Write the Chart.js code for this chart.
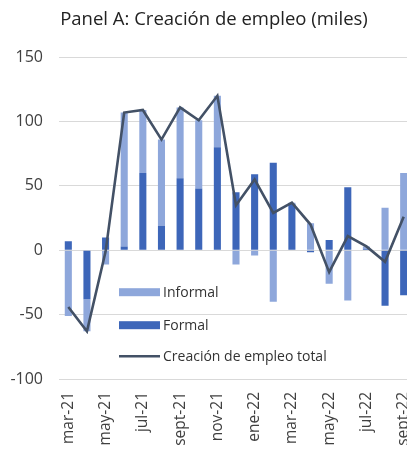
<!DOCTYPE html>
<html>
<head>
<meta charset="utf-8">
<script src="https://cdn.jsdelivr.net/npm/chart.js@4.4.1/dist/chart.umd.min.js"></script>
<style>
  html, body { margin: 0; padding: 0; background: #fff; overflow: hidden; }
  #wrap { width: 428px; height: 452px; }
</style>
</head>
<body>
<div id="wrap"><canvas id="empleo" width="428" height="452"></canvas></div>
<script>
// months, mar-21 .. sept-22
const months = ['mar-21', 'abr-21', 'may-21', 'jun-21', 'jul-21', 'ago-21', 'sept-21', 'oct-21', 'nov-21',
  'dic-21', 'ene-22', 'feb-22', 'mar-22', 'abr-22', 'may-22', 'jun-22', 'jul-22', 'ago-22', 'sept-22'];

// miles de empleos
const formal = [7, -38, 10, 3, 60, 19, 56, 48, 80, 45, 59, 68, 36, -1.5, 8, 49, 1, -43, -35];
const informal = [-51, -25, -11, 104, 49, 67, 55, 53, 40, -11, -4, -40, 1, 21, -26, -39, 2, 33, 60];
const total = [-44, -63, -1, 107, 109, 86, 111, 101, 120, 35, 55, 29, 37, 20, -17, 11, 3, -9, 26];

const yTicks = [-100, -50, 0, 50, 100, 150];

const colFormal = '#3d66b9';
const colInformal = '#8ea7db';
const colTotal = '#435166';
const fontFam = '"Open Sans", sans-serif';

// legend drawn inside the plot, like the original
const insideLegend = {
  id: 'insideLegend',
  afterDatasetsDraw(chart) {
    const ctx = chart.ctx;
    const area = chart.chartArea;
    const x0 = area.left + 60;
    const ds = chart.data.datasets;
    const rows = [
      { ds: ds[2], dy: 235 },
      { ds: ds[1], dy: 268 },
      { ds: ds[0], dy: 299 }
    ];
    ctx.save();
    ctx.font = '14px ' + fontFam;
    ctx.textBaseline = 'middle';
    rows.forEach(r => {
      const y = area.top + r.dy;
      if (r.ds.type === 'line') {
        ctx.strokeStyle = r.ds.borderColor;
        ctx.lineWidth = 2.6;
        ctx.beginPath();
        ctx.moveTo(x0, y);
        ctx.lineTo(x0 + 41, y);
        ctx.stroke();
      } else {
        ctx.fillStyle = r.ds.backgroundColor;
        ctx.fillRect(x0, y - 4, 41, 8);
      }
      ctx.fillStyle = '#333';
      ctx.fillText(r.ds.label, x0 + 44, y + 1);
    });
    ctx.restore();
  }
};

const ctx = document.getElementById('empleo').getContext('2d');
new Chart(ctx, {
  data: {
    labels: months,
    datasets: [
      {
        type: 'line',
        label: 'Creación de empleo total',
        data: total,
        borderColor: colTotal,
        borderWidth: 2.6,
        pointRadius: 0,
        tension: 0,
        order: 0
      },
      {
        type: 'bar',
        label: 'Formal',
        data: formal,
        backgroundColor: colFormal,
        stack: 's',
        barPercentage: 0.38,
        categoryPercentage: 1,
        order: 1
      },
      {
        type: 'bar',
        label: 'Informal',
        data: informal,
        backgroundColor: colInformal,
        stack: 's',
        barPercentage: 0.38,
        categoryPercentage: 1,
        order: 2
      }
    ]
  },
  options: {
    responsive: false,
    animation: false,
    layout: { padding: 0 },
    plugins: {
      legend: { display: false },
      tooltip: { enabled: false },
      title: {
        display: true,
        text: 'Panel A: Creación de empleo (miles)',
        color: '#222',
        font: { family: fontFam, size: 18.5, weight: 'normal' },
        padding: { top: 9, bottom: 26 }
      }
    },
    scales: {
      x: {
        stacked: true,
        grid: { display: false, drawTicks: false },
        border: { display: false },
        ticks: {
          autoSkip: false,
          minRotation: 90,
          maxRotation: 90,
          padding: 13,
          color: '#404040',
          font: { family: fontFam, size: 15.5 },
          callback: (v, i) => (i % 2 === 0 ? months[i] : '')
        },
        afterFit: scale => {
          scale.height = 73;
          scale.paddingLeft = 0;
          scale.paddingRight = 15;
        }
      },
      y: {
        stacked: true,
        min: -100,
        max: 150,
        afterBuildTicks: axis => { axis.ticks = yTicks.map(v => ({ value: v })); },
        afterFit: scale => { scale.width = 59; },
        grid: { color: '#d9d9d9', lineWidth: 1, drawTicks: false },
        border: { display: false },
        ticks: {
          padding: 16,
          color: '#404040',
          font: { family: fontFam, size: 16 }
        }
      }
    }
  },
  plugins: [insideLegend]
});
</script>
</body>
</html>
